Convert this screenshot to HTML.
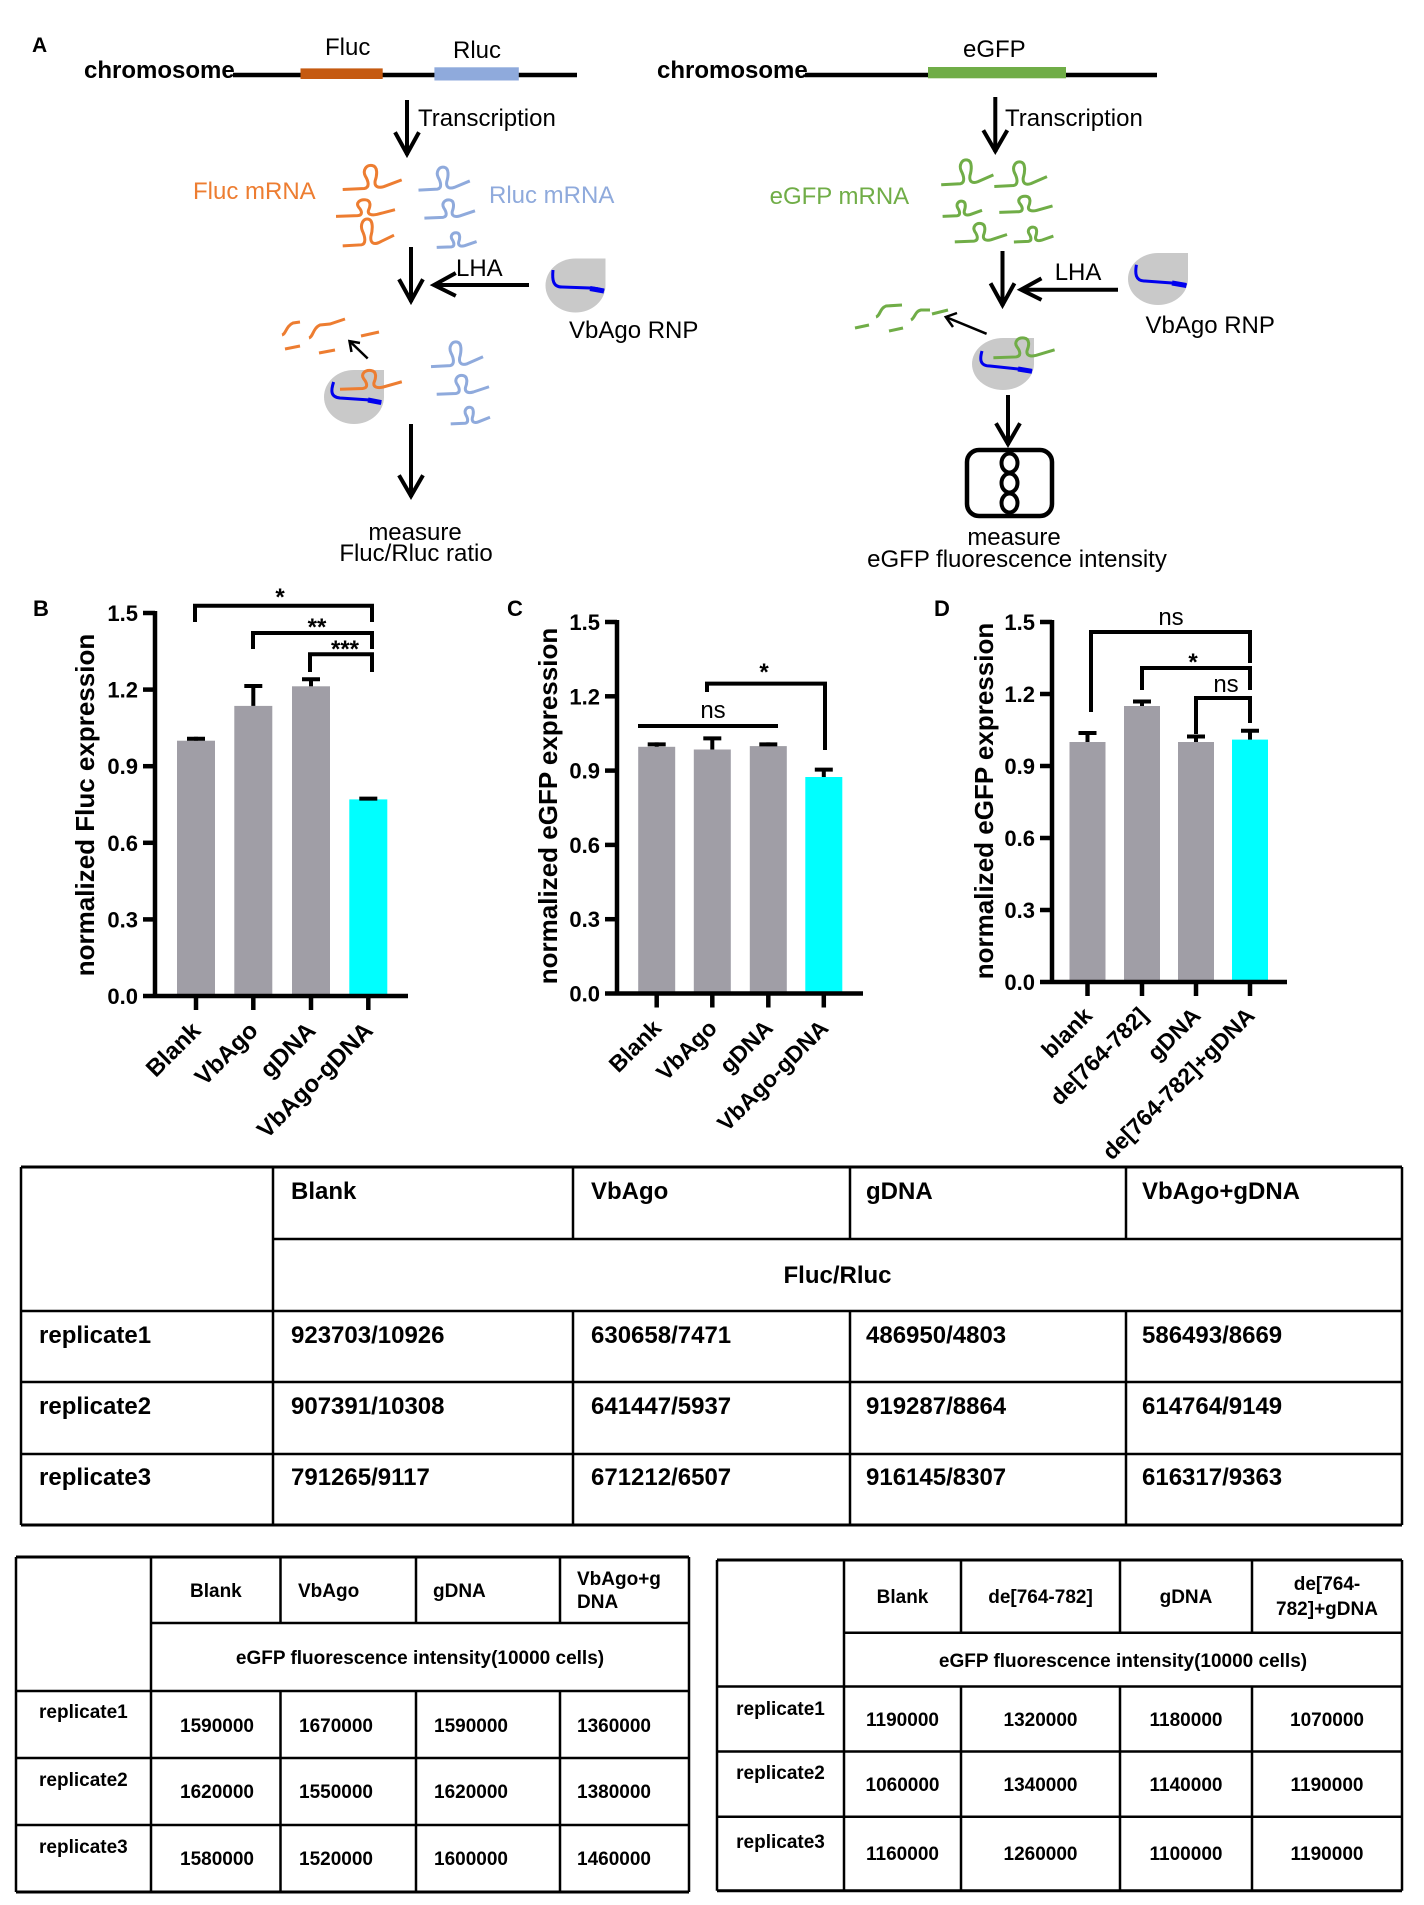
<!DOCTYPE html>
<html><head><meta charset="utf-8"><style>
html,body{margin:0;padding:0;background:#fff;}
svg{display:block;}
text{font-family:"Liberation Sans",Arial,sans-serif;}
.b{font-weight:bold;}
</style></head><body>
<svg width="1424" height="1905" viewBox="0 0 1424 1905" xmlns="http://www.w3.org/2000/svg">
<defs>
<path id="st" d="M0,27 L22,26 C28,25 26,18 23,13 C20,7 24,1 30,2 C36,3 35,12 33,18 C32,24 36,26 42,24 L60,17" fill="none" vector-effect="non-scaling-stroke"/>
</defs>
<rect width="1424" height="1905" fill="#fff"/>

<!-- ================= PANEL A ================= -->
<text x="32" y="52" class="b" font-size="21">A</text>
<text x="84" y="78" class="b" font-size="24">chromosome</text>
<line x1="233" y1="75" x2="577" y2="75" stroke="#000" stroke-width="4.5"/>
<rect x="300.5" y="68.4" width="82.2" height="10.6" fill="#c55a11"/>
<rect x="434.4" y="67.3" width="84.4" height="13.2" fill="#8faadc"/>
<text x="325" y="55" font-size="24">Fluc</text>
<text x="453" y="58" font-size="24">Rluc</text>

<g stroke="#000" stroke-width="4" fill="none" stroke-linecap="square">
<line x1="407" y1="102" x2="407" y2="153"/><polyline points="396,134 407,154 418,134"/>
<line x1="411" y1="249" x2="411" y2="300"/><polyline points="400,281 411,301 422,281"/>
<line x1="527" y1="285" x2="436" y2="285"/><polyline points="454,274 434,285 454,295"/>
<line x1="411" y1="426" x2="411" y2="495"/><polyline points="400,477 411,496 422,477"/>
</g>
<text x="418" y="126" font-size="24">Transcription</text>
<text x="193" y="199" font-size="24" fill="#ed7d31">Fluc mRNA</text>
<text x="489" y="203" font-size="24" fill="#8faadc">Rluc mRNA</text>
<text x="456" y="276" font-size="24">LHA</text>
<text x="569" y="338" font-size="24">VbAgo RNP</text>

<g stroke="#ed7d31" stroke-width="3">
<use href="#st" transform="translate(342.7,163.6) scale(0.983,0.957)"/>
<use href="#st" transform="translate(336,198.5) scale(0.983,0.66)"/>
<use href="#st" transform="translate(342.7,217) scale(0.855,1.07)"/>
</g>
<g stroke="#8faadc" stroke-width="3">
<use href="#st" transform="translate(418.5,165.4) scale(0.855,0.914)"/>
<use href="#st" transform="translate(424.4,198.5) scale(0.843,0.725)"/>
<use href="#st" transform="translate(436.7,231.6) scale(0.665,0.586)"/>
<use href="#st" transform="translate(431,340) scale(0.867,0.986)"/>
<use href="#st" transform="translate(436.7,374) scale(0.872,0.75)"/>
<use href="#st" transform="translate(450.7,406) scale(0.655,0.664)"/>
</g>

<!-- VbAgo icon 1 -->
<path d="M545.5,285.5 A30,27 0 0 0 575.5,312.5 A30,27 0 0 0 605.5,285.5 L605.5,258.5 L575.5,258.5 A30,27 0 0 0 545.5,285.5 Z" fill="#c9c9c9"/>
<path d="M553,270 C552,280 553,287 562,287 L590,288 C596,288 600,289 604,291" fill="none" stroke="#0000ee" stroke-width="3"/>
<path d="M590,288.5 L604,291" stroke="#0000ee" stroke-width="5"/>

<!-- fragments orange -->
<g stroke="#ed7d31" stroke-width="3" fill="none">
<path d="M282,335 C286,334 286,326 293,323 L300,322"/>
<path d="M309,338 C313,337 313,328 320,325 L330,324 L345,319"/>
<path d="M361,336 L379,332"/>
<path d="M285,349 L300,346"/>
<path d="M319,353 L335,350"/>
</g>
<g stroke="#000" stroke-width="2.5" fill="none">
<line x1="367.7" y1="358.5" x2="350" y2="341.5"/>
<polyline points="351.5,352 349.5,341.2 360,343"/>
</g>
<!-- circle 2 -->
<path d="M324,397 A30,27 0 0 0 354,424 A30,27 0 0 0 384,397 L384,370 L354,370 A30,27 0 0 0 324,397 Z" fill="#c9c9c9"/>
<path d="M333.6,382 C331,390 330,397 340,398 L370,400 C375,401 378,402 381.3,402.6" fill="none" stroke="#0000ee" stroke-width="3"/>
<path d="M368,400 L381.3,402.6" stroke="#0000ee" stroke-width="5"/>
<use href="#st" transform="translate(340,369) scale(1.03,0.75)" stroke="#ed7d31" stroke-width="3"/>

<text x="415" y="540" font-size="24" text-anchor="middle">measure</text>
<text x="416" y="561" font-size="24" text-anchor="middle">Fluc/Rluc ratio</text>

<!-- right side -->
<text x="657" y="78" class="b" font-size="24">chromosome</text>
<line x1="805" y1="75" x2="1157" y2="75" stroke="#000" stroke-width="4.5"/>
<rect x="928" y="67" width="138" height="11.3" fill="#70ad47"/>
<text x="963" y="57" font-size="24">eGFP</text>
<g stroke="#000" stroke-width="4" fill="none" stroke-linecap="square">
<line x1="995.3" y1="99" x2="995.3" y2="150"/><polyline points="984.3,132 995.3,151 1006.3,132"/>
<line x1="1002.5" y1="253" x2="1002.5" y2="304"/><polyline points="991.5,285 1002.5,305 1013.5,285"/>
<line x1="1116" y1="289.7" x2="1023" y2="289.7"/><polyline points="1039.7,279.4 1021,289.7 1039.7,299"/>
<line x1="1008" y1="397" x2="1008" y2="443"/><polyline points="997,425 1008,444 1019,425"/>
</g>
<text x="1005" y="126" font-size="24">Transcription</text>
<text x="769.6" y="204" font-size="24" fill="#70ad47">eGFP mRNA</text>
<text x="1054.7" y="280" font-size="24">LHA</text>
<text x="1145.5" y="333" font-size="24">VbAgo RNP</text>

<g stroke="#70ad47" stroke-width="3">
<use href="#st" transform="translate(941.2,158) scale(0.87,0.99)"/>
<use href="#st" transform="translate(994.3,160) scale(0.878,0.98)"/>
<use href="#st" transform="translate(942.6,200) scale(0.657,0.607)"/>
<use href="#st" transform="translate(999.3,195) scale(0.887,0.643)"/>
<use href="#st" transform="translate(954.8,222) scale(0.87,0.736)"/>
<use href="#st" transform="translate(1013.9,226) scale(0.658,0.593)"/>
</g>
<path d="M1128,279 A30,26 0 0 0 1158,305 A30,26 0 0 0 1188,279 L1188,253 L1158,253 A30,26 0 0 0 1128,279 Z" fill="#c9c9c9"/>
<path d="M1136.4,264.7 C1135,273 1135,281 1145,281 L1172,283 C1178,283 1183,284 1186.4,285.5" fill="none" stroke="#0000ee" stroke-width="3"/>
<path d="M1172,283 L1186.4,285.5" stroke="#0000ee" stroke-width="5"/>

<g stroke="#70ad47" stroke-width="3" fill="none">
<path d="M855,328 L869,325"/>
<path d="M876,317 C880,316 880,308 886,306 L902,305"/>
<path d="M889,331 L903,328"/>
<path d="M911,320 C915,318 915,311 921,310 L930,310"/>
<path d="M932,314 L948,310"/>
</g>
<g stroke="#000" stroke-width="2.5" fill="none">
<line x1="986.6" y1="333.8" x2="947" y2="317.5"/>
<polyline points="953,327 945.8,317 957,313"/>
</g>
<path d="M972,364 A31,26 0 0 0 1003,390 A31,26 0 0 0 1034,364 L1034,338 L1003,338 A31,26 0 0 0 972,364 Z" fill="#c9c9c9"/>
<path d="M982,351 C980,358 979,366 990,366 L1018,369 C1024,370 1029,370.5 1032,371.3" fill="none" stroke="#0000ee" stroke-width="3"/>
<path d="M1018,369 L1032,371.3" stroke="#0000ee" stroke-width="5"/>
<use href="#st" transform="translate(993.4,336.4) scale(1.02,0.79)" stroke="#70ad47" stroke-width="3"/>

<rect x="967" y="450" width="85" height="66" rx="12" ry="12" fill="none" stroke="#000" stroke-width="4.5"/>
<g fill="none" stroke="#000" stroke-width="4">
<ellipse cx="1009.5" cy="463" rx="8" ry="9.5"/>
<ellipse cx="1009.5" cy="483" rx="8" ry="9.5"/>
<ellipse cx="1009.5" cy="503" rx="8" ry="9.5"/>
</g>
<text x="1014" y="545" font-size="24" text-anchor="middle">measure</text>
<text x="1017" y="567" font-size="24" text-anchor="middle">eGFP fluorescence intensity</text>

<!-- ================= PANEL B ================= -->
<text x="33" y="616" class="b" font-size="22">B</text>
<g fill="#a09ea6">
<rect x="177" y="740.7" width="38" height="255.3"/>
<rect x="234.3" y="705.9" width="38" height="290.1"/>
<rect x="292" y="686.3" width="38" height="309.7"/>
</g>
<rect x="349.3" y="799.4" width="38" height="196.6" fill="#00ffff"/>
<g stroke="#000" stroke-width="4" fill="none">
<line x1="196" y1="740.7" x2="196" y2="736.8"/><line x1="187" y1="738.8" x2="205" y2="738.8"/>
<line x1="253.3" y1="705.9" x2="253.3" y2="686"/><line x1="244.3" y1="686" x2="262.3" y2="686"/>
<line x1="311" y1="686.3" x2="311" y2="679.3"/><line x1="302" y1="679.3" x2="320" y2="679.3"/>
<line x1="368.3" y1="799.4" x2="368.3" y2="798.6"/><line x1="359.3" y1="798.6" x2="377.3" y2="798.6"/>
</g>
<g stroke="#000" stroke-width="4.5" fill="none">
<line x1="155" y1="611" x2="155" y2="998"/>
<line x1="143" y1="996" x2="408" y2="996"/>
<line x1="143" y1="613" x2="155" y2="613"/>
<line x1="143" y1="689.6" x2="155" y2="689.6"/>
<line x1="143" y1="766.2" x2="155" y2="766.2"/>
<line x1="143" y1="842.8" x2="155" y2="842.8"/>
<line x1="143" y1="919.4" x2="155" y2="919.4"/>
<line x1="196" y1="996" x2="196" y2="1010"/>
<line x1="253.3" y1="996" x2="253.3" y2="1010"/>
<line x1="311" y1="996" x2="311" y2="1010"/>
<line x1="368.3" y1="996" x2="368.3" y2="1010"/>
</g>
<g class="b" font-size="22" text-anchor="end">
<text x="138" y="621">1.5</text>
<text x="138" y="697.6">1.2</text>
<text x="138" y="774.2">0.9</text>
<text x="138" y="850.8">0.6</text>
<text x="138" y="927.4">0.3</text>
<text x="138" y="1004">0.0</text>
</g>
<text transform="translate(94,805) rotate(-90)" class="b" font-size="26" text-anchor="middle">normalized Fluc expression</text>
<g stroke="#000" stroke-width="4" fill="none">
<path d="M195,622 V605.7 H372 V622"/>
<path d="M253,649 V633 H372 V649"/>
<path d="M310,672 V654.2 H372 V672"/>
</g>
<g class="b" font-size="24" text-anchor="middle">
<text x="280" y="605">*</text>
<text x="317" y="635">**</text>
<text x="345" y="657">***</text>
</g>
<g class="b" font-size="24" text-anchor="end">
<text transform="translate(202,1032) rotate(-45)">Blank</text>
<text transform="translate(259.3,1032) rotate(-45)">VbAgo</text>
<text transform="translate(317,1032) rotate(-45)">gDNA</text>
<text transform="translate(374.3,1032) rotate(-45)">VbAgo-gDNA</text>
</g>

<!-- ================= PANEL C ================= -->
<text x="507" y="616" class="b" font-size="22">C</text>
<g fill="#a09ea6">
<rect x="638.2" y="746.8" width="37" height="246.7"/>
<rect x="693.8" y="749.5" width="37" height="244"/>
<rect x="749.8" y="746.1" width="37" height="247.4"/>
</g>
<rect x="805.3" y="777" width="37" height="216.5" fill="#00ffff"/>
<g stroke="#000" stroke-width="4" fill="none">
<line x1="656.7" y1="746.8" x2="656.7" y2="742.4"/><line x1="647.7" y1="744.4" x2="665.7" y2="744.4"/>
<line x1="712.3" y1="749.5" x2="712.3" y2="738.4"/><line x1="703.3" y1="738.4" x2="721.3" y2="738.4"/>
<line x1="768.3" y1="746.1" x2="768.3" y2="742.4"/><line x1="759.3" y1="744.4" x2="777.3" y2="744.4"/>
<line x1="823.8" y1="777" x2="823.8" y2="769.6"/><line x1="814.8" y1="769.6" x2="832.8" y2="769.6"/>
</g>
<g stroke="#000" stroke-width="4.5" fill="none">
<line x1="617" y1="620" x2="617" y2="995.5"/>
<line x1="605" y1="993.5" x2="863" y2="993.5"/>
<line x1="605" y1="622" x2="617" y2="622"/>
<line x1="605" y1="696.3" x2="617" y2="696.3"/>
<line x1="605" y1="770.6" x2="617" y2="770.6"/>
<line x1="605" y1="844.9" x2="617" y2="844.9"/>
<line x1="605" y1="919.2" x2="617" y2="919.2"/>
<line x1="656.7" y1="993.5" x2="656.7" y2="1007.5"/>
<line x1="712.3" y1="993.5" x2="712.3" y2="1007.5"/>
<line x1="768.3" y1="993.5" x2="768.3" y2="1007.5"/>
<line x1="823.8" y1="993.5" x2="823.8" y2="1007.5"/>
</g>
<g class="b" font-size="22" text-anchor="end">
<text x="600" y="630">1.5</text>
<text x="600" y="704.3">1.2</text>
<text x="600" y="778.6">0.9</text>
<text x="600" y="852.9">0.6</text>
<text x="600" y="927.2">0.3</text>
<text x="600" y="1001.5">0.0</text>
</g>
<text transform="translate(557,806) rotate(-90)" class="b" font-size="26" text-anchor="middle">normalized eGFP expression</text>
<g stroke="#000" stroke-width="4" fill="none">
<line x1="638" y1="726" x2="778" y2="726"/>
<path d="M707,692 V683.6 H825 V750"/>
</g>
<text x="713" y="718" font-size="24" text-anchor="middle">ns</text>
<text x="764" y="680" class="b" font-size="24" text-anchor="middle">*</text>
<g class="b" font-size="23" text-anchor="end">
<text transform="translate(662.7,1029.5) rotate(-45)">Blank</text>
<text transform="translate(718.3,1029.5) rotate(-45)">VbAgo</text>
<text transform="translate(774.3,1029.5) rotate(-45)">gDNA</text>
<text transform="translate(829.8,1029.5) rotate(-45)">VbAgo-gDNA</text>
</g>

<!-- ================= PANEL D ================= -->
<text x="934" y="616" class="b" font-size="22">D</text>
<g fill="#a09ea6">
<rect x="1069.5" y="742" width="36" height="240"/>
<rect x="1124" y="706" width="36" height="276"/>
<rect x="1178" y="742" width="36" height="240"/>
</g>
<rect x="1232" y="739.6" width="36" height="242.4" fill="#00ffff"/>
<g stroke="#000" stroke-width="4" fill="none">
<line x1="1087.5" y1="742" x2="1087.5" y2="733"/><line x1="1078.5" y1="733" x2="1096.5" y2="733"/>
<line x1="1142" y1="706" x2="1142" y2="700.7"/><line x1="1133" y1="701.5" x2="1151" y2="701.5"/>
<line x1="1196" y1="742" x2="1196" y2="736"/><line x1="1187" y1="736.5" x2="1205" y2="736.5"/>
<line x1="1250" y1="739.6" x2="1250" y2="730.7"/><line x1="1241" y1="730.7" x2="1259" y2="730.7"/>
</g>
<g stroke="#000" stroke-width="4.5" fill="none">
<line x1="1052" y1="620" x2="1052" y2="984"/>
<line x1="1040" y1="982" x2="1287" y2="982"/>
<line x1="1040" y1="622" x2="1052" y2="622"/>
<line x1="1040" y1="694" x2="1052" y2="694"/>
<line x1="1040" y1="766" x2="1052" y2="766"/>
<line x1="1040" y1="838" x2="1052" y2="838"/>
<line x1="1040" y1="910" x2="1052" y2="910"/>
<line x1="1087.5" y1="982" x2="1087.5" y2="996"/>
<line x1="1142" y1="982" x2="1142" y2="996"/>
<line x1="1196" y1="982" x2="1196" y2="996"/>
<line x1="1250" y1="982" x2="1250" y2="996"/>
</g>
<g class="b" font-size="22" text-anchor="end">
<text x="1035" y="630">1.5</text>
<text x="1035" y="702">1.2</text>
<text x="1035" y="774">0.9</text>
<text x="1035" y="846">0.6</text>
<text x="1035" y="918">0.3</text>
<text x="1035" y="990">0.0</text>
</g>
<text transform="translate(993,801) rotate(-90)" class="b" font-size="26" text-anchor="middle">normalized eGFP expression</text>
<g stroke="#000" stroke-width="4" fill="none">
<path d="M1091,712 V632 H1250 V663"/>
<path d="M1142,690 V668 H1250 V690"/>
<path d="M1196,734 V698 H1250 V723"/>
</g>
<text x="1171" y="625" font-size="24" text-anchor="middle">ns</text>
<text x="1193" y="670" class="b" font-size="24" text-anchor="middle">*</text>
<text x="1226" y="692" font-size="24" text-anchor="middle">ns</text>
<g class="b" font-size="23" text-anchor="end">
<text transform="translate(1093.5,1017) rotate(-45)">blank</text>
<text transform="translate(1149,1017) rotate(-45)">de[764-782]</text>
<text transform="translate(1202,1017) rotate(-45)">gDNA</text>
<text transform="translate(1256,1017) rotate(-45)">de[764-782]+gDNA</text>
</g>

<!-- ================= TABLE 1 ================= -->
<g stroke="#000" fill="none">
<line x1="21" y1="1167" x2="1402" y2="1167" stroke-width="3"/>
<line x1="273" y1="1239" x2="1402" y2="1239" stroke-width="2.5"/>
<line x1="21" y1="1311" x2="1402" y2="1311" stroke-width="2.5"/>
<line x1="21" y1="1382" x2="1402" y2="1382" stroke-width="2.5"/>
<line x1="21" y1="1454" x2="1402" y2="1454" stroke-width="2.5"/>
<line x1="21" y1="1525" x2="1402" y2="1525" stroke-width="3"/>
<line x1="21" y1="1167" x2="21" y2="1525" stroke-width="2.5"/>
<line x1="273" y1="1167" x2="273" y2="1525" stroke-width="2.5"/>
<line x1="1402" y1="1167" x2="1402" y2="1525" stroke-width="2.5"/>
<path d="M573,1167 V1239 M573,1311 V1525 M850,1167 V1239 M850,1311 V1525 M1126,1167 V1239 M1126,1311 V1525" stroke-width="2.5"/>
</g>
<g class="b" font-size="24">
<text x="291" y="1199">Blank</text>
<text x="591" y="1199">VbAgo</text>
<text x="866" y="1199">gDNA</text>
<text x="1142" y="1199">VbAgo+gDNA</text>
<text x="837.5" y="1283" text-anchor="middle">Fluc/Rluc</text>
<text x="39" y="1343">replicate1</text>
<text x="291" y="1343">923703/10926</text>
<text x="591" y="1343">630658/7471</text>
<text x="866" y="1343">486950/4803</text>
<text x="1142" y="1343">586493/8669</text>
<text x="39" y="1414">replicate2</text>
<text x="291" y="1414">907391/10308</text>
<text x="591" y="1414">641447/5937</text>
<text x="866" y="1414">919287/8864</text>
<text x="1142" y="1414">614764/9149</text>
<text x="39" y="1485">replicate3</text>
<text x="291" y="1485">791265/9117</text>
<text x="591" y="1485">671212/6507</text>
<text x="866" y="1485">916145/8307</text>
<text x="1142" y="1485">616317/9363</text>
</g>

<!-- ================= TABLE 2 ================= -->
<g stroke="#000" fill="none" stroke-width="2.5">
<line x1="16" y1="1557" x2="689" y2="1557" stroke-width="3"/>
<line x1="151" y1="1623" x2="689" y2="1623"/>
<line x1="16" y1="1691" x2="689" y2="1691"/>
<line x1="16" y1="1758" x2="689" y2="1758"/>
<line x1="16" y1="1825" x2="689" y2="1825"/>
<line x1="16" y1="1892" x2="689" y2="1892" stroke-width="3"/>
<line x1="16" y1="1557" x2="16" y2="1892"/>
<line x1="151" y1="1557" x2="151" y2="1892"/>
<line x1="689" y1="1557" x2="689" y2="1892"/>
<path d="M280.5,1557 V1623 M280.5,1691 V1892 M416,1557 V1623 M416,1691 V1892 M560,1557 V1623 M560,1691 V1892"/>
</g>
<g class="b" font-size="19">
<text x="190" y="1597">Blank</text>
<text x="298" y="1597">VbAgo</text>
<text x="433" y="1597">gDNA</text>
<text x="577" y="1585">VbAgo+g</text>
<text x="577" y="1608">DNA</text>
<text x="420" y="1664" text-anchor="middle">eGFP fluorescence intensity(10000 cells)</text>
<text x="39" y="1718">replicate1</text>
<text x="39" y="1786">replicate2</text>
<text x="39" y="1853">replicate3</text>
<text x="180" y="1732">1590000</text>
<text x="299" y="1732">1670000</text>
<text x="434" y="1732">1590000</text>
<text x="577" y="1732">1360000</text>
<text x="180" y="1798">1620000</text>
<text x="299" y="1798">1550000</text>
<text x="434" y="1798">1620000</text>
<text x="577" y="1798">1380000</text>
<text x="180" y="1865">1580000</text>
<text x="299" y="1865">1520000</text>
<text x="434" y="1865">1600000</text>
<text x="577" y="1865">1460000</text>
</g>

<!-- ================= TABLE 3 ================= -->
<g stroke="#000" fill="none" stroke-width="2.5">
<line x1="717" y1="1560" x2="1402" y2="1560" stroke-width="3"/>
<line x1="844" y1="1632.7" x2="1402" y2="1632.7"/>
<line x1="717" y1="1686.5" x2="1402" y2="1686.5"/>
<line x1="717" y1="1751.5" x2="1402" y2="1751.5"/>
<line x1="717" y1="1816.7" x2="1402" y2="1816.7"/>
<line x1="717" y1="1890.7" x2="1402" y2="1890.7" stroke-width="3"/>
<line x1="717" y1="1560" x2="717" y2="1890.7"/>
<line x1="844" y1="1560" x2="844" y2="1890.7"/>
<line x1="1402" y1="1560" x2="1402" y2="1890.7"/>
<path d="M961,1560 V1632.7 M961,1686.5 V1890.7 M1120,1560 V1632.7 M1120,1686.5 V1890.7 M1252,1560 V1632.7 M1252,1686.5 V1890.7"/>
</g>
<g class="b" font-size="19" text-anchor="middle">
<text x="902.5" y="1603">Blank</text>
<text x="1040.5" y="1603">de[764-782]</text>
<text x="1186" y="1603">gDNA</text>
<text x="1327" y="1590">de[764-</text>
<text x="1327" y="1615">782]+gDNA</text>
<text x="1123" y="1667">eGFP fluorescence intensity(10000 cells)</text>
<text x="780.5" y="1715">replicate1</text>
<text x="780.5" y="1779">replicate2</text>
<text x="780.5" y="1848">replicate3</text>
<text x="902.5" y="1726">1190000</text>
<text x="1040.5" y="1726">1320000</text>
<text x="1186" y="1726">1180000</text>
<text x="1327" y="1726">1070000</text>
<text x="902.5" y="1791">1060000</text>
<text x="1040.5" y="1791">1340000</text>
<text x="1186" y="1791">1140000</text>
<text x="1327" y="1791">1190000</text>
<text x="902.5" y="1860">1160000</text>
<text x="1040.5" y="1860">1260000</text>
<text x="1186" y="1860">1100000</text>
<text x="1327" y="1860">1190000</text>
</g>
</svg>
</body></html>
